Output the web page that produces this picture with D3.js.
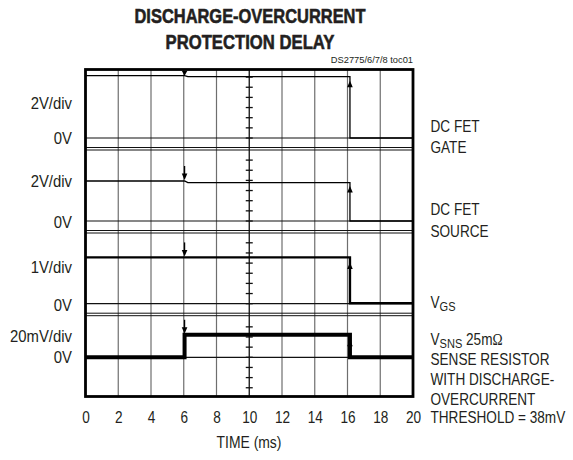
<!DOCTYPE html>
<html><head><meta charset="utf-8">
<script src="https://cdn.jsdelivr.net/npm/d3@7"></script>
<style>body{margin:0;background:#fff}</style>
</head><body>
<svg id="c" width="573" height="460"></svg>
<script>
// ---------- DATA ----------
const timeTicks = [0, 2, 4, 6, 8, 10, 12, 14, 16, 18, 20];          // ms
const scaleLabels = ["2V/div", "2V/div", "1V/div", "20mV/div"];
const zeroLabels = ["0V", "0V", "0V", "0V"];
const voltsPerDiv = [2, 2, 1, 0.02];
// traces: [time ms, volts]
const gateTrace   = [[0, 3.07], [6.05, 3.07], [6.25, 3.02], [16.15, 3.02], [16.15, 0], [20, 0]];
const sourceTrace = [[0, 1.97], [6.05, 1.97], [6.25, 1.89], [16.15, 1.89], [16.15, 0], [20, 0]];
const vgsTrace    = [[0, 1.14], [16.15, 1.14], [16.15, 0.012], [20, 0.012]];
const vsnsTrace   = [[0, 0], [6.05, 0], [6.05, 0.0111], [16.15, 0.0111], [16.15, 0], [20, 0]];
const downMarkTimes = [6.05, 6.05, 6.05, 6.05];
const upMarkTimes   = [16.15, 16.15, 16.15, 16.15];
const titleLines = ["DISCHARGE-OVERCURRENT", "PROTECTION DELAY"];
const docId = "DS2775/6/7/8 toc01";
const xTitle = "TIME (ms)";

// ---------- LAYOUT ----------
const W = 573, H = 460;
const plotL = 85.5, plotR = 413, plotT = 69.5, plotB = 396.5;
const zeroY = [138, 221, 303.7, 357.3];
const divPx = 40.6;
const traceWidths = [1.3, 1.3, 2.4, 4];
const traces = [gateTrace, sourceTrace, vgsTrace, vsnsTrace];
const FONT = "'Liberation Sans', Arial, Helvetica, sans-serif";

const svg = d3.select("#c");
svg.append("rect").attr("width", W).attr("height", H).attr("fill", "#fff");

const x = d3.scaleLinear().domain([0, 20]).range([plotL, plotR]);
const ys = zeroY.map((z, i) => d3.scaleLinear().domain([0, voltsPerDiv[i]]).range([z, z - divPx]));

// vertical grid
const grid = svg.append("g");
grid.selectAll("line.v").data(timeTicks.filter(t => t > 0 && t < 20)).enter().append("line")
  .attr("x1", d => x(d)).attr("x2", d => x(d)).attr("y1", plotT).attr("y2", plotB)
  .attr("stroke", d => d === 10 ? "#111" : "#6e6e6e").attr("stroke-width", d => d === 10 ? 1.3 : 1.2);

// zero lines and separators
zeroY.forEach((z, i) => {
  grid.append("line").attr("x1", plotL).attr("x2", plotR).attr("y1", z).attr("y2", z)
    .attr("stroke", "#111").attr("stroke-width", 1.2);
  if (i < 3) {
    [9.5, 12].forEach(o => grid.append("line").attr("x1", plotL).attr("x2", plotR)
      .attr("y1", z + o).attr("y2", z + o).attr("stroke", "#111").attr("stroke-width", 1));
  }
});

// minor ticks on center line
const panelTops = [plotT, zeroY[0] + 12, zeroY[1] + 12, zeroY[2] + 12];
const panelBottoms = [zeroY[0], zeroY[1], zeroY[2], plotB];
const tickStep = divPx / 4;
zeroY.forEach((z, i) => {
  for (let k = -6; k <= 6; k++) {
    const yy = z - k * tickStep;
    if (yy > panelTops[i] + 3 && yy < panelBottoms[i] + 0.5) {
      grid.append("line").attr("x1", x(10) - 3.5).attr("x2", x(10) + 3.5)
        .attr("y1", yy).attr("y2", yy).attr("stroke", "#111").attr("stroke-width", 1.3);
    }
  }
});

// traces
const lineGen = i => d3.line().x(d => x(d[0])).y(d => ys[i](d[1]));
traces.forEach((tr, i) => {
  svg.append("path").attr("d", lineGen(i)(tr)).attr("fill", "none")
    .attr("stroke", "#000").attr("stroke-width", traceWidths[i]).attr("stroke-linejoin", "miter");
});

// frame
svg.append("rect").attr("x", plotL).attr("y", plotT).attr("width", plotR - plotL).attr("height", plotB - plotT)
  .attr("fill", "none").attr("stroke", "#000").attr("stroke-width", 2.8);

// trigger markers
const stemLens = [0, 14, 14, 14];
traces.forEach((tr, i) => {
  const t = downMarkTimes[i];
  const vb = tr[0][1];
  const vmax = d3.max(tr, d => d[1]);
  const tip = Math.min(ys[i](vb), ys[i](vmax)) - (i === 0 ? 0 : 1);
  const xm = x(t);
  const hh = i === 0 ? 5 : 6.5;
  if (stemLens[i] > 0) svg.append("line").attr("x1", xm).attr("x2", xm)
    .attr("y1", tip - stemLens[i]).attr("y2", tip - 4).attr("stroke", "#000").attr("stroke-width", 1.3);
  svg.append("path").attr("d", `M${xm - 2.8},${tip - hh}L${xm + 2.8},${tip - hh}L${xm},${tip}Z`).attr("fill", "#000");
  const tu = upMarkTimes[i];
  const hi = d3.max(tr.filter(d => d[0] <= tu && d[0] > 1), d => d[1]) ?? vb;
  const xu = x(tu);
  const apex = ys[i](hi) + 5;
  svg.append("path").attr("d", `M${xu - 2.8},${apex + 6.5}L${xu + 2.8},${apex + 6.5}L${xu},${apex}Z`).attr("fill", "#000");
});

// text helper
function txt(xp, yp, str, o = {}) {
  const t = svg.append("text")
    .attr("transform", `translate(${xp},${yp}) scale(${o.sx ?? 1},1)`)
    .attr("font-family", FONT).attr("font-size", o.size ?? 16)
    .attr("font-weight", o.weight ?? "normal")
    .attr("text-anchor", o.anchor ?? "start").attr("fill", "#231f20");
  if (str !== null) t.text(str);
  return t;
}

// title
const titleWidths = [231, 169];
titleLines.forEach((s, i) => {
  svg.append("text").attr("x", 250).attr("y", [23, 49][i]).attr("text-anchor", "middle")
    .attr("font-family", FONT).attr("font-weight", "bold").attr("font-size", 20.5)
    .attr("textLength", titleWidths[i]).attr("lengthAdjust", "spacingAndGlyphs")
    .attr("fill", "#231f20").attr("stroke", "#231f20").attr("stroke-width", 0.6).text(s);
});
txt(413, 63, docId, { size: 9.3, anchor: "end" });

// left labels
const scaleBase = [109, 186.5, 273, 341.7];
const zeroBase = [144, 227.5, 310.5, 363.3];
scaleLabels.forEach((s, i) => txt(72, scaleBase[i], s, { anchor: "end", sx: 0.93 }));
zeroLabels.forEach((s, i) => txt(72, zeroBase[i], s, { anchor: "end", sx: 0.93 }));

// x axis labels
const axis = d3.axisBottom(x).tickValues(timeTicks).tickSize(0).tickFormat(d3.format("d"));
const ax = svg.append("g").attr("transform", "translate(0,423)").call(axis);
ax.select(".domain").remove();
ax.selectAll("text").attr("y", 0).attr("dy", 0).attr("font-size", 16).attr("font-family", FONT)
  .attr("fill", "#231f20").attr("transform", "scale(0.85,1)");
txt(249, 448, xTitle, { anchor: "middle", sx: 0.87 });

// right labels
const RX = 430.5, RS = 0.85;
txt(RX, 132, "DC FET", { sx: RS });
txt(RX, 153, "GATE", { sx: RS });
txt(RX, 215, "DC FET", { sx: RS });
txt(RX, 236.5, "SOURCE", { sx: RS });
const vgs = txt(RX, 308, null, { sx: RS });
vgs.append("tspan").text("V");
vgs.append("tspan").attr("font-size", 13).attr("dy", 3).text("GS");
const vsns = txt(RX, 345, null, { sx: RS });
vsns.append("tspan").text("V");
vsns.append("tspan").attr("font-size", 13).attr("dy", 3).text("SNS");
vsns.append("tspan").attr("dy", -3).text(" 25m");
vsns.append("tspan").attr("font-family", "'Liberation Serif', 'Times New Roman', serif").text("Ω");
txt(RX, 365, "SENSE RESISTOR", { sx: RS });
txt(RX, 385, "WITH DISCHARGE-", { sx: RS });
txt(RX, 404.5, "OVERCURRENT", { sx: RS });
txt(RX, 423, "THRESHOLD = 38mV", { sx: RS });
</script>
</body></html>
